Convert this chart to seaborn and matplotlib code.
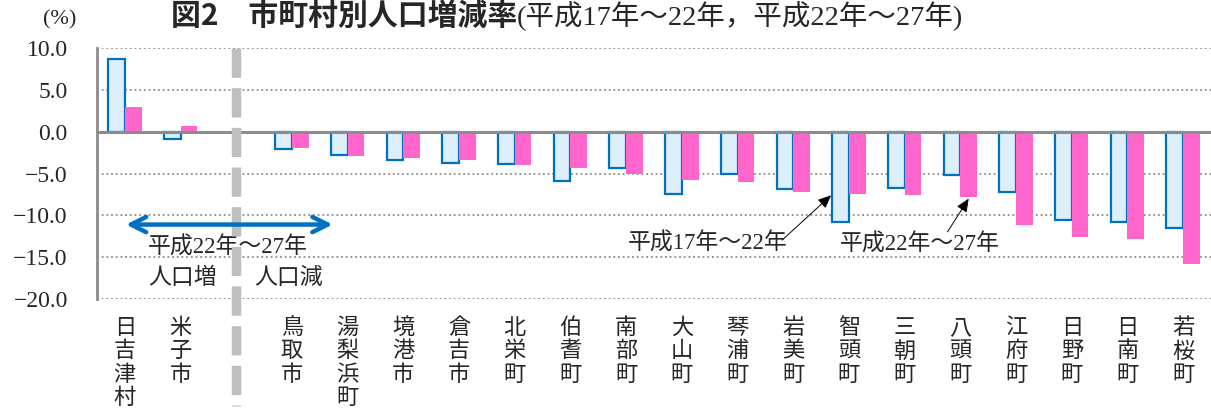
"""Population change rate by municipality (Tottori)"""

import pandas as pd
import numpy as np
import matplotlib
matplotlib.use('Agg')
import matplotlib.pyplot as plt
import seaborn as sns

# data
towns = ['日吉津村', '米子市', '鳥取市', '湯梨浜町', '境港市', '倉吉市', '北栄町',
         '伯耆町', '南部町', '大山町', '琴浦町', '岩美町', '智頭町', '三朝町',
         '八頭町', '江府町', '日野町', '日南町', '若桜町']
rate_h17_22 = [8.7, -0.9, -2.1, -2.8, -3.4, -3.7, -3.9, -5.9, -4.4, -7.5,
               -5.0, -6.8, -10.8, -6.7, -5.2, -7.2, -10.5, -10.8, -11.5]
rate_h22_27 = [3.0, 0.7, -1.9, -2.9, -3.2, -3.4, -4.0, -4.4, -5.1, -5.8,
               -6.0, -7.2, -7.4, -7.6, -7.8, -11.2, -12.6, -12.8, -15.8]
periods = ['平成17年～22年', '平成22年～27年']
n_increase = 2  # towns that grew in H22-27 come before the divider
y_ticks = [10, 5, 0, -5, -10, -15, -20]

BLUE_EDGE = '#0070C0'
BLUE_FILL = '#DDEFFA'
PINK = '#FF66CC'
GRAY = '#8C8C8C'

sns.set_style('white')
plt.rcParams['font.family'] = ['Liberation Serif', 'Noto Sans CJK JP']

df = pd.DataFrame({
    'town': towns * 2,
    'rate': rate_h17_22 + rate_h22_27,
    'period': [periods[0]] * len(towns) + [periods[1]] * len(towns),
})
gap = ''
order = towns[:n_increase] + [gap] + towns[n_increase:]

fig = plt.figure(figsize=(12.11, 4.16), dpi=100)
ax = fig.add_axes([0.0801, 0.2812, 0.9199, 0.6034])

sns.barplot(data=df, x='town', y='rate', hue='period', order=order,
            hue_order=periods, palette=[BLUE_FILL, PINK], width=0.6,
            saturation=1, errorbar=None, legend=False, ax=ax, zorder=3)

for bar in ax.containers[0]:
    bar.set_edgecolor(BLUE_EDGE)
    bar.set_linewidth(1.6)
for bar in ax.containers[1]:
    bar.set_linewidth(0)

ax.set_xlim(-0.5, len(order) - 0.5)
ax.set_ylim(-20, 10)
ax.set_yticks(y_ticks)
ax.set_yticklabels([f'{v:.1f}'.replace('-', '\u2212') for v in y_ticks],
                   fontsize=17)
ax.set_xlabel('')
ax.set_ylabel('')

# grid
ax.set_axisbelow(True)
ax.yaxis.grid(True, color=GRAY, linestyle=(0, (1, 1.6)), linewidth=1.3)

# spines
ax.spines['top'].set_visible(False)
ax.spines['right'].set_visible(False)
ax.spines['left'].set_color(GRAY)
ax.spines['left'].set_linewidth(2)
ax.spines['bottom'].set_position(('data', 0))
ax.spines['bottom'].set_color(GRAY)
ax.spines['bottom'].set_linewidth(2.2)
ax.spines['bottom'].set_zorder(4)

ax.tick_params(axis='y', direction='out', length=5, width=1.5, color=GRAY, pad=16)
ax.set_xticks(np.arange(len(order) + 1) - 0.5, minor=True)
ax.tick_params(axis='x', which='major', length=0, labelbottom=False)
ax.tick_params(axis='x', which='minor', direction='out', length=6, width=1.5,
               color=GRAY)

# vertical category labels
for i, name in enumerate(order):
    ax.text(i, -0.068, '\n'.join(name), transform=ax.get_xaxis_transform(),
            ha='center', va='top', fontsize=16, linespacing=1.02,
            family=['Noto Sans CJK JP'])

# divider between increasing / decreasing towns
gi = order.index(gap)
ax.plot([gi, gi], [1.0, -0.425], transform=ax.get_xaxis_transform(),
        color='#BFBFBF', linewidth=6.8, linestyle=(0, (3.1, 1.1)),
        solid_capstyle='butt', dash_capstyle='butt', clip_on=False, zorder=5)

# increase / decrease arrow
ax.annotate('', xy=(0.02, -11.1), xytext=(3.73, -11.1),
            arrowprops=dict(arrowstyle='<->,head_length=1.1,head_width=0.55',
                            color=BLUE_EDGE, lw=3.2, shrinkA=0, shrinkB=0),
            zorder=6)
ax.text(1.85, -13.9, '平成22年～27年', ha='center', va='center', fontsize=16.5)
ax.text(1.03, -17.5, '人口増', ha='center', va='center', fontsize=16.5)
ax.text(2.94, -17.5, '人口減', ha='center', va='center', fontsize=16.5)

# series callouts
arrow_kw = dict(arrowstyle='-|>,head_length=0.8,head_width=0.35', color='black',
                lw=0.7, shrinkA=0, shrinkB=0)
ax.annotate('', xy=(12.68, -7.6), xytext=(11.8, -12.96), arrowprops=arrow_kw)
ax.annotate('', xy=(15.15, -8.0), xytext=(14.77, -11.97), arrowprops=arrow_kw)
ax.text(10.46, -13.4, periods[0], ha='center', va='center', fontsize=16.5)
ax.text(14.27, -13.56, periods[1], ha='center', va='center', fontsize=16.5)

# title and unit
fig.text(0.427, 0.997, '図2　市町村別人口増減率', ha='right', va='top',
         fontsize=21.5, fontweight='bold', family=['Noto Sans CJK JP'])
fig.text(0.427, 0.997, '(平成17年～22年，平成22年～27年)', ha='left',
         va='top', fontsize=20.5)
fig.text(0.049, 0.952, '(%)', ha='center', va='center', fontsize=16)

fig.savefig('out.png', dpi=100)
